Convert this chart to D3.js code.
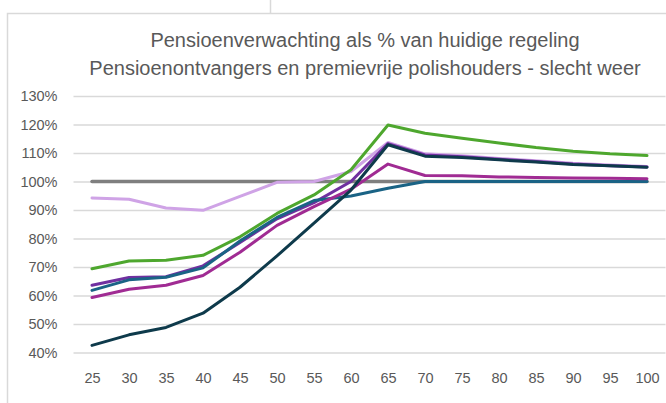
<!doctype html>
<html>
<head>
<meta charset="UTF-8">
<title>pensioenverwachting</title>
<script src="https://d3js.org/d3.v7.min.js"></script>
<style>
  body { margin: 0; background: #fff; }
  text { font-family: "Liberation Sans", Arial, sans-serif; fill: #595959; }
</style>
</head>
<body>
<svg width="666" height="403"></svg>
<script>
// leeftijden op de x-as
var ages = [25, 30, 35, 40, 45, 50, 55, 60, 65, 70, 75, 80, 85, 90, 95, 100];
var yTicks = [40, 50, 60, 70, 80, 90, 100, 110, 120, 130];

// reeksen (in %)
var grijs    = [100, 100, 100, 100, 100, 100, 100, 100, 100, 100, 100, 100, 100, 100, 100, 100];
var lila     = [94.2, 93.8, 90.7, 89.9, 94.8, 99.7, 100, 103.5, 113.7, 109.7, 109, 108.1, 107.3, 106.4, 105.8, 105.3];
var groen    = [69.4, 72.1, 72.4, 74.1, 80.6, 88.8, 95.3, 104.1, 119.8, 116.9, 115.2, 113.5, 111.9, 110.6, 109.7, 109.1];
var paars    = [63.6, 66.3, 66.6, 70.4, 78.6, 86.9, 92.6, 100, 113.3, 109.3, 108.7, 107.8, 107, 106.1, 105.5, 105.1];
var blauw    = [61.8, 65.5, 66.4, 69.7, 79.1, 87.4, 93.3, 94.9, 97.6, 100, 100, 100, 100, 100, 100, 100];
var magenta  = [59.3, 62.2, 63.6, 67.0, 75.2, 84.6, 91.2, 97.3, 106.1, 102.1, 102, 101.6, 101.4, 101.2, 101.1, 101];
var donker   = [42.5, 46.2, 48.8, 53.8, 62.9, 73.9, 85.4, 97, 112.9, 108.9, 108.4, 107.6, 106.8, 106, 105.5, 105];

var series = [
  {vals: grijs,   color: "#7f7f7f", w: 3.5},
  {vals: lila,    color: "#cfa3e6", w: 3},
  {vals: groen,   color: "#4ea72e", w: 3},
  {vals: paars,   color: "#7030a0", w: 3},
  {vals: blauw,   color: "#1a6385", w: 3},
  {vals: magenta, color: "#a02b93", w: 3},
  {vals: donker,  color: "#0e3a4b", w: 3}
];

var svg = d3.select("svg");

// kader
svg.append("path")
  .attr("d", "M7.5,403 V13.5 H666 M270.5,0 V13.5")
  .attr("fill", "none")
  .attr("stroke", "#d9d9d9")
  .attr("stroke-width", 1.5);

var x = d3.scalePoint().domain(ages).range([73.5, 665.5]).padding(0.5);
var y = d3.scaleLinear().domain([40, 130]).range([352.5, 96]);

// titel
svg.append("text").attr("x", 365).attr("y", 47)
  .attr("text-anchor", "middle").attr("font-size", 20)
  .text("Pensioenverwachting als % van huidige regeling");
svg.append("text").attr("x", 365).attr("y", 75)
  .attr("text-anchor", "middle").attr("font-size", 20)
  .text("Pensioenontvangers en premievrije polishouders - slecht weer");

// rasterlijnen + y-as
var yAxis = d3.axisLeft(y).tickValues(yTicks)
  .tickSize(-(665.5 - 73.5)).tickPadding(16)
  .tickFormat(function(d){ return d + "%"; });
var gy = svg.append("g").attr("transform", "translate(73.5,0)").call(yAxis);
gy.select(".domain").remove();
gy.selectAll("line").attr("stroke", "#d9d9d9").attr("stroke-width", 1.5);
gy.selectAll("text").attr("font-size", 14.5).attr("fill", "#595959")
  .style("font-family", "Liberation Sans, Arial, sans-serif");

// x-as
var xAxis = d3.axisBottom(x).tickSize(0).tickPadding(20);
var gx = svg.append("g").attr("transform", "translate(0,352.5)").call(xAxis);
gx.select(".domain").remove();
gx.selectAll("text").attr("font-size", 14.5).attr("fill", "#595959")
  .style("font-family", "Liberation Sans, Arial, sans-serif");

// lijnen
var line = d3.line()
  .x(function(d, i){ return x(ages[i]); })
  .y(function(d){ return y(d); });

svg.selectAll("path.reeks")
  .data(series)
  .enter().append("path")
  .attr("class", "reeks")
  .attr("d", function(s){ return line(s.vals); })
  .attr("fill", "none")
  .attr("stroke", function(s){ return s.color; })
  .attr("stroke-width", function(s){ return s.w; })
  .attr("stroke-linejoin", "round")
  .attr("stroke-linecap", "round");
</script>
</body>
</html>
